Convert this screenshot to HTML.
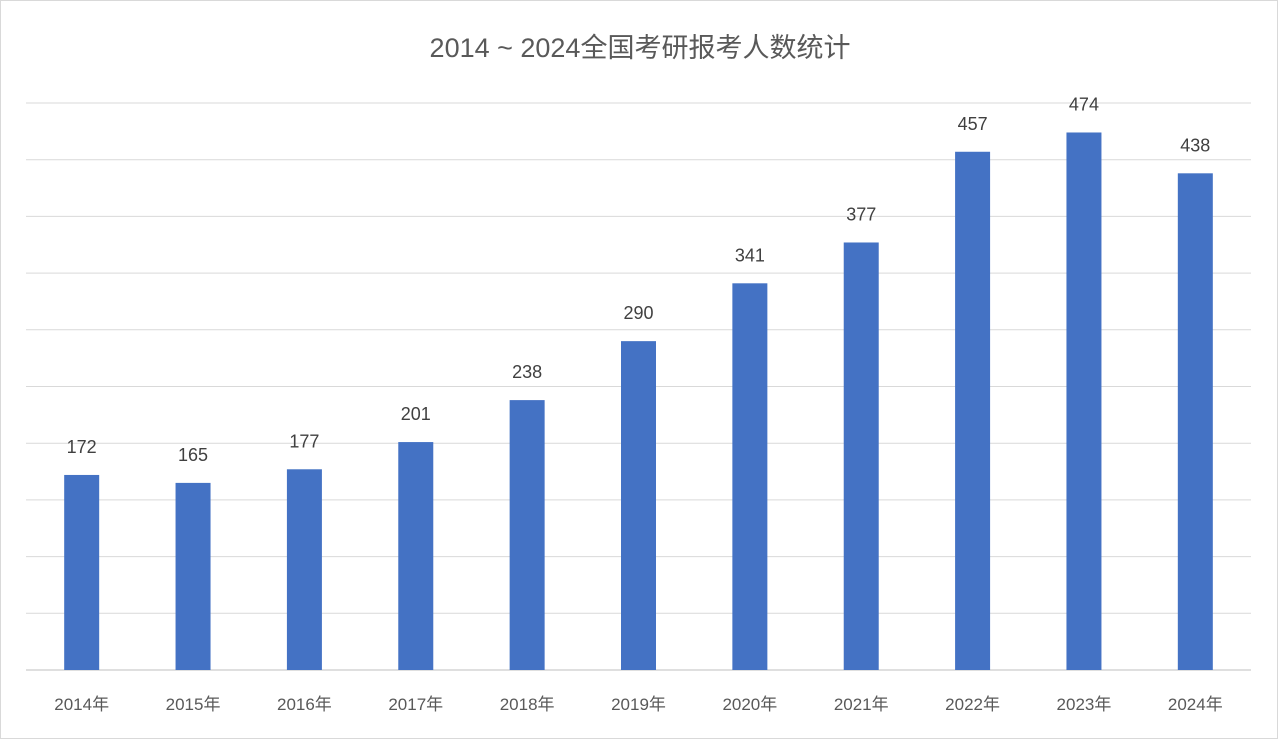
<!DOCTYPE html>
<html><head><meta charset="utf-8"><style>
body{margin:0;background:#fff;}
svg{display:block;font-family:"Liberation Sans","Noto Sans CJK SC",sans-serif;}
</style></head><body>
<svg id="chart" width="1280" height="741" viewBox="0 0 1280 741">
<rect x="0.5" y="0.5" width="1277" height="738" fill="#fff" stroke="#d9d9d9"/>
<text x="640" y="57" text-anchor="middle" font-size="27" fill="#595959">2014 ~ 2024全国考研报考人数统计</text>
<g id="grid"></g><g id="bars"></g><g id="labels"></g><g id="cats"></g>
</svg>
<script>
const categories=["2014年","2015年","2016年","2017年","2018年","2019年","2020年","2021年","2022年","2023年","2024年"];
const values=[172,165,177,201,238,290,341,377,457,474,438];
const gridTicks=[0,50,100,150,200,250,300,350,400,450,500];
const NS="http://www.w3.org/2000/svg";
const plotLeft=26,plotRight=1251,plotTop=103,plotBottom=670,maxV=500;
const band=(plotRight-plotLeft)/categories.length,bw=35;
const yScale=v=>plotBottom-(v/maxV)*(plotBottom-plotTop);
const xScale=i=>plotLeft+band*(i+0.5);
function mk(t,a,p){const e=document.createElementNS(NS,t);for(const k in a)e.setAttribute(k,a[k]);p.appendChild(e);return e;}
const g=document.getElementById('grid');
gridTicks.forEach(t=>{const l=mk('line',{x1:plotLeft,x2:plotRight,y1:yScale(t),y2:yScale(t),stroke:t===0?'#bfbfbf':'#d9d9d9','stroke-width':1},g);

});
const bg=document.getElementById('bars'),lg=document.getElementById('labels'),cg=document.getElementById('cats');
values.forEach((v,i)=>{
const r=mk('rect',{x:xScale(i)-bw/2,y:yScale(v),width:bw,height:plotBottom-yScale(v),fill:'#4472c4'},bg);


const t=mk('text',{x:xScale(i),y:yScale(v)-22,'text-anchor':'middle','font-size':18,fill:'#404040'},lg);t.textContent=v;


const c=mk('text',{x:xScale(i),y:710,'text-anchor':'middle','font-size':17,fill:'#595959'},cg);c.textContent=categories[i];


});
</script>
</body></html>
